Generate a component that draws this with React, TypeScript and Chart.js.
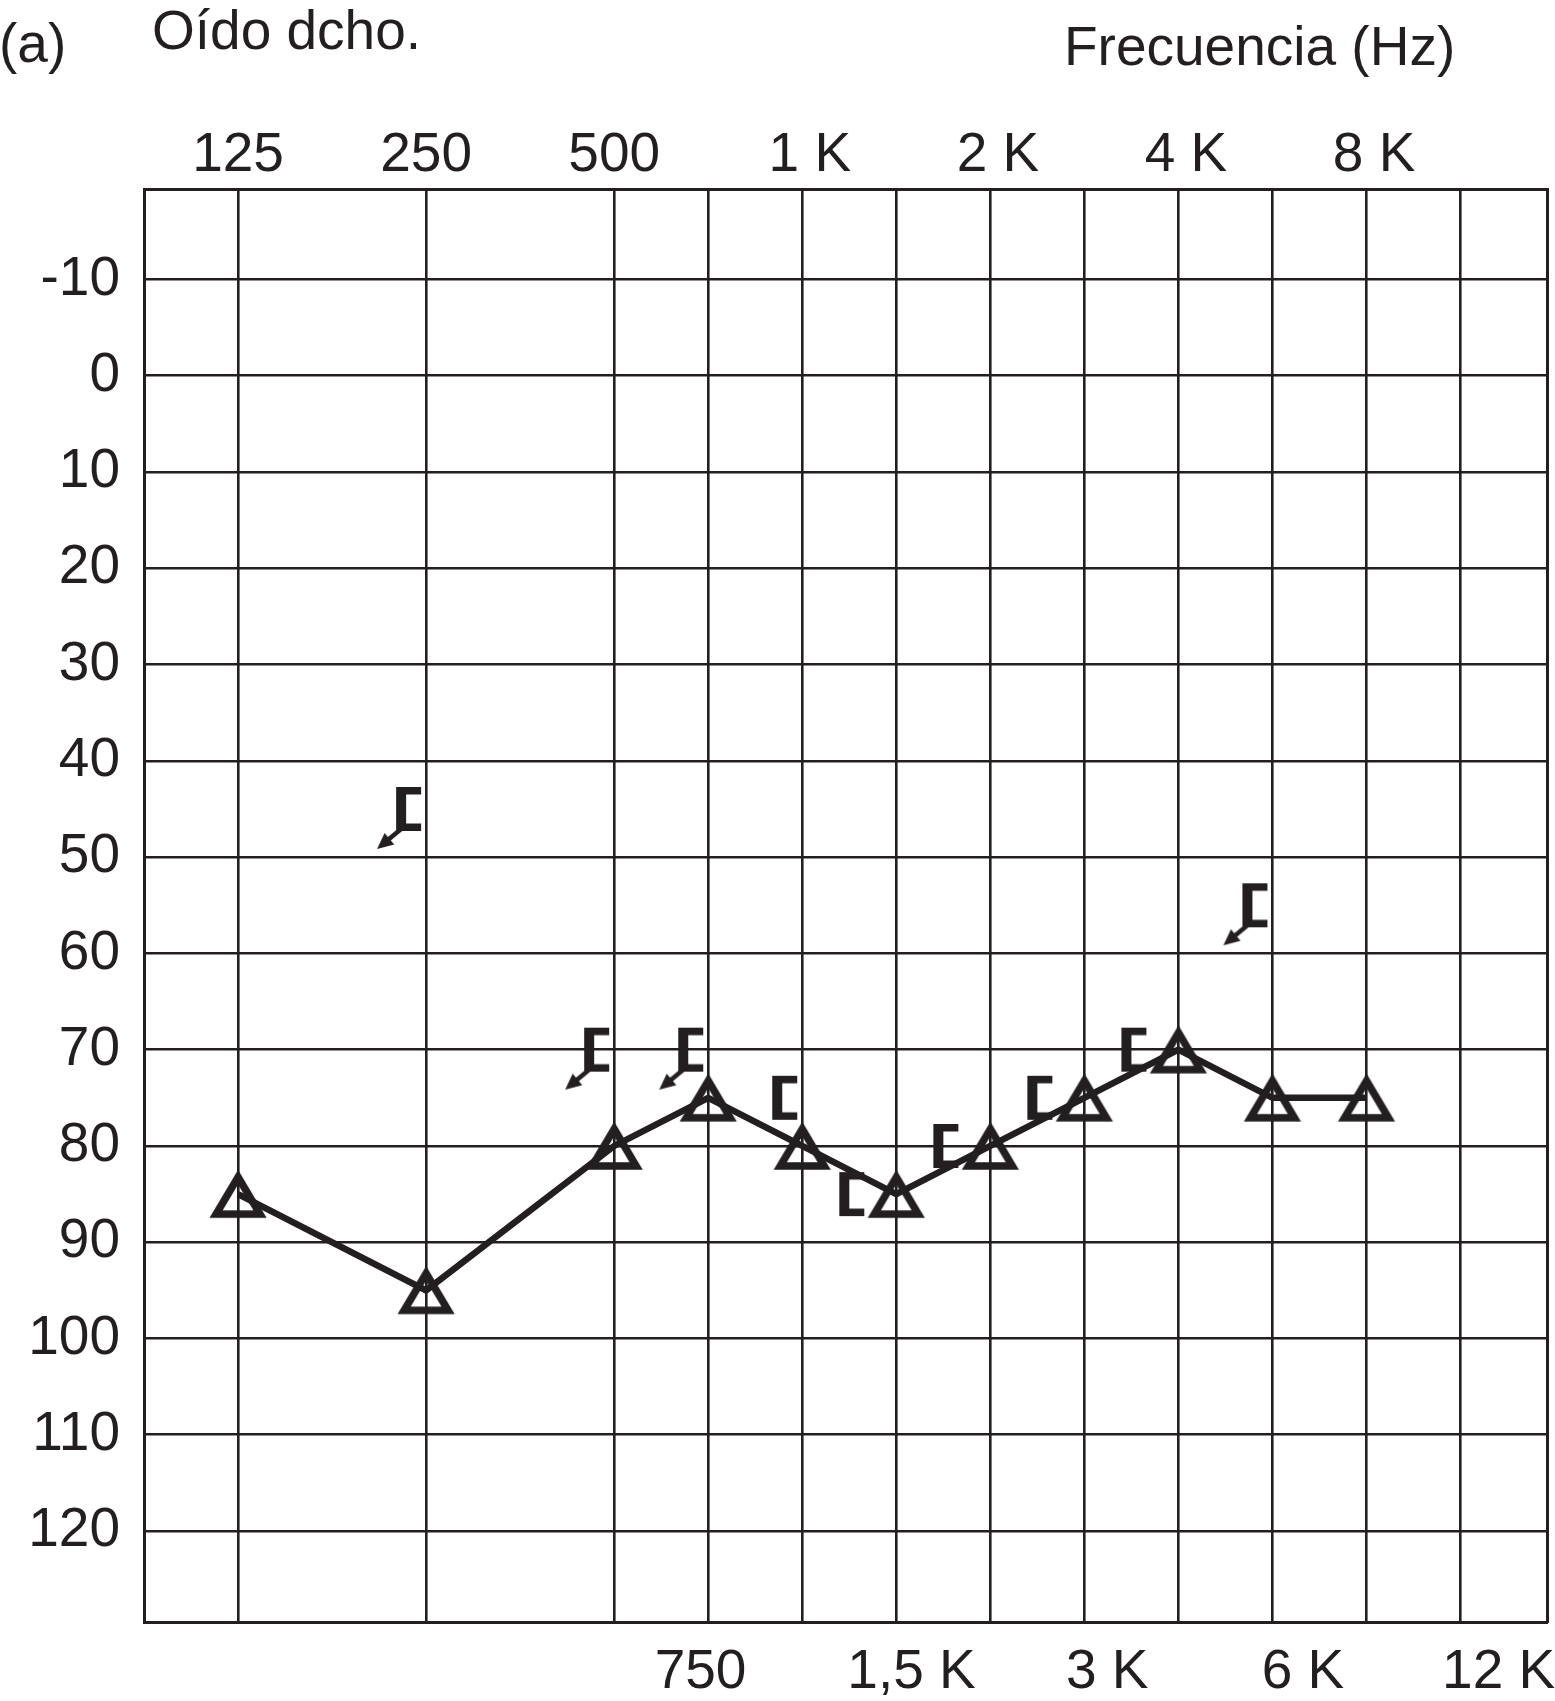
import React, { useEffect, useRef } from 'react';
import { Chart, registerables } from 'chart.js';

Chart.register(...registerables);

// ---------- data ----------
const GRID_FREQS = [125, 250, 500, 750, 1000, 1500, 2000, 3000, 4000, 6000, 8000, 12000];
const TOP_FREQS = [125, 250, 500, 1000, 2000, 4000, 8000];
const TOP_LABELS = ['125', '250', '500', '1 K', '2 K', '4 K', '8 K'];
const BOTTOM_FREQS = [750, 1500, 3000, 6000, 12000];
const BOTTOM_LABELS = ['750', '1,5 K', '3 K', '6 K', '12 K'];
const DB_TICKS = [-10, 0, 10, 20, 30, 40, 50, 60, 70, 80, 90, 100, 110, 120];

// Air conduction (masked), right ear: triangles joined by a line
const AIR_FREQS = [125, 250, 500, 750, 1000, 1500, 2000, 3000, 4000, 6000, 8000];
const AIR_DB = [85, 95, 80, 75, 80, 85, 80, 75, 70, 75, 75];

// Bone conduction (masked), right ear: "[" symbols
const BONE_FREQS = [250, 500, 750, 1000, 1500, 2000, 3000, 4000, 6000];
const BONE_DB = [45, 70, 70, 75, 85, 80, 75, 70, 55];
const BONE_NO_RESPONSE = [true, true, true, false, false, false, false, false, true];

const TITLE_PANEL = '(a)';
const TITLE_EAR = 'Oído dcho.';
const TITLE_AXIS = 'Frecuencia (Hz)';

// ---------- style ----------
const INK = '#231f20';
const FONT = '"Liberation Sans", Arial, Helvetica, sans-serif';
const FONT_SIZE = 55;
const X_MIN = -0.5;
const X_MAX = 6.96;
// spaces used to nudge some tick labels sideways, as in the printed form (+ right, - left)
const LABEL_NUDGE: Record<string, number> = {
  '1 K': 1, '2 K': 1, '4 K': 1, '8 K': 1,
  '750': -1, '1,5 K': 2, '3 K': 3, '6 K': 4, '12 K': 5,
};

// audiometric axis: one unit per octave above 125 Hz, inter-octave frequencies at the midpoint
const octaveSlot = (f: number) => Math.round(2 * Math.log2(f / 125)) / 2;
const nudge = (s: string) => {
  const n = LABEL_NUDGE[s] ?? 0;
  return n >= 0 ? '\u00A0'.repeat(n) + s : s + '\u00A0'.repeat(-n);
};

function makeTriangle(): HTMLCanvasElement {
  const c = document.createElement('canvas');
  c.width = 74;
  c.height = 74;
  const g = c.getContext('2d')!;
  const cx = 37, cy = 37;
  g.strokeStyle = INK;
  g.lineWidth = 7.5;
  g.lineJoin = 'miter';
  g.beginPath();
  g.moveTo(cx, cy - 17);
  g.lineTo(cx + 22, cy + 20);
  g.lineTo(cx - 22, cy + 20);
  g.closePath();
  g.stroke();
  return c;
}

function makeBracket(gap: number, arrow: boolean): HTMLCanvasElement {
  const c = document.createElement('canvas');
  c.width = 200;
  c.height = 110;
  const g = c.getContext('2d')!;
  const cx = 100, cy = 55;
  const w = 25;
  const right = cx - gap;
  const left = right - w;
  const top = cy - 22;
  const bottom = cy + 22;
  g.fillStyle = INK;
  g.fillRect(left, top, 10, bottom - top);
  g.fillRect(left, top, w, 7.5);
  g.fillRect(left, bottom - 7.5, w, 7.5);
  if (arrow) {
    const sx = left + 5, sy = bottom - 2;
    const tx = left - 19, ty = bottom + 18;
    const len = Math.hypot(tx - sx, ty - sy);
    const ux = (tx - sx) / len, uy = (ty - sy) / len;
    const headLen = 16, headHalf = 7.5;
    const bx = tx - ux * headLen, by = ty - uy * headLen;
    g.strokeStyle = INK;
    g.lineWidth = 4.5;
    g.beginPath();
    g.moveTo(sx, sy);
    g.lineTo(bx + ux * 2, by + uy * 2);
    g.stroke();
    g.beginPath();
    g.moveTo(tx, ty);
    g.lineTo(bx - uy * headHalf, by + ux * headHalf);
    g.lineTo(bx + uy * headHalf, by - ux * headHalf);
    g.closePath();
    g.fill();
  }
  return c;
}

const headerPlugin = {
  id: 'audiogramHeader',
  afterDraw(chart: any) {
    const { ctx } = chart;
    ctx.save();
    ctx.fillStyle = INK;
    ctx.font = `${FONT_SIZE}px ${FONT}`;
    ctx.textAlign = 'left';
    ctx.textBaseline = 'alphabetic';
    ctx.fillText(TITLE_PANEL, -1, 62);
    ctx.fillText(TITLE_EAR, 152, 49);
    ctx.fillText(TITLE_AXIS, 1064, 65);
    ctx.restore();
  },
};

const zeroPad = (s: any) => {
  s.paddingLeft = 0;
  s.paddingRight = 0;
  s.paddingTop = 0;
  s.paddingBottom = 0;
};
const fixHeight = (h: number) => (s: any) => {
  s.height = h;
  zeroPad(s);
};
const fixWidth = (w: number) => (s: any) => {
  s.width = w;
  zeroPad(s);
};

export default function App() {
  const ref = useRef<HTMLCanvasElement | null>(null);

  useEffect(() => {
    if (!ref.current) return;
    const tri = makeTriangle();
    const brackets = {
      near: [makeBracket(5, false), makeBracket(5, true)],
      far: [makeBracket(32, false), makeBracket(32, true)],
    };

    const tickFont = { family: FONT, size: FONT_SIZE };
    const gridSlots = GRID_FREQS.map(octaveSlot);

    const chart = new Chart(ref.current, {
      type: 'line',
      data: {
        datasets: [
          {
            type: 'line',
            label: 'Vía aérea',
            data: AIR_FREQS.map((f, i) => ({ x: octaveSlot(f), y: AIR_DB[i] })),
            borderColor: INK,
            borderWidth: 6.5,
            pointStyle: tri as any,
            pointRadius: 1,
            pointBorderWidth: 0,
            tension: 0,
            xAxisID: 'x',
            yAxisID: 'y',
          },
          {
            type: 'scatter',
            label: 'Vía ósea',
            data: BONE_FREQS.map((f, i) => ({ x: octaveSlot(f), y: BONE_DB[i] })),
            showLine: false,
            pointRadius: 1,
            pointBorderWidth: 0,
            pointStyle: ((ctx: any) => {
              const i = ctx.dataIndex ?? 0;
              const a = AIR_FREQS.indexOf(BONE_FREQS[i]);
              const overlaps = a >= 0 && Math.abs(AIR_DB[a] - BONE_DB[i]) < 5;
              const set = overlaps ? brackets.far : brackets.near;
              return set[BONE_NO_RESPONSE[i] ? 1 : 0];
            }) as any,
            xAxisID: 'x',
            yAxisID: 'y',
          },
        ],
      },
      options: {
        responsive: false,
        maintainAspectRatio: false,
        animation: false,
        events: [],
        layout: { padding: 0, autoPadding: false },
        plugins: {
          legend: { display: false },
          tooltip: { enabled: false },
          title: { display: false },
        },
        scales: {
          x: {
            type: 'linear',
            position: 'top',
            min: X_MIN,
            max: X_MAX,
            afterBuildTicks: (s: any) => {
              s.ticks = [X_MIN, ...gridSlots, X_MAX].map((v) => ({ value: v }));
            },
            afterFit: fixHeight(189),
            grid: {
              color: (c: any) => (c.tick && (c.tick.value === X_MIN || c.tick.value === X_MAX) ? 'rgba(0,0,0,0)' : INK),
              lineWidth: 2.6,
              drawTicks: false,
            },
            border: { display: true, color: INK, width: 3 },
            ticks: {
              autoSkip: false,
              maxRotation: 0,
              minRotation: 0,
              padding: 0,
              color: INK,
              font: tickFont,
              callback: (value: any) => {
                const idx = TOP_FREQS.findIndex((f) => octaveSlot(f) === value);
                return idx >= 0 ? nudge(TOP_LABELS[idx]) : '';
              },
            },
          },
          xb: {
            type: 'linear',
            position: 'bottom',
            min: X_MIN,
            max: X_MAX,
            afterBuildTicks: (s: any) => {
              s.ticks = [X_MIN, ...BOTTOM_FREQS.map(octaveSlot), X_MAX].map((v) => ({ value: v }));
            },
            afterFit: fixHeight(79),
            grid: { display: false, drawTicks: false },
            border: { display: true, color: INK, width: 3 },
            ticks: {
              autoSkip: false,
              maxRotation: 0,
              minRotation: 0,
              padding: 18,
              color: INK,
              font: tickFont,
              callback: (value: any) => {
                const idx = BOTTOM_FREQS.findIndex((f) => octaveSlot(f) === value);
                return idx >= 0 ? nudge(BOTTOM_LABELS[idx]) : '';
              },
            },
          },
          y: {
            type: 'linear',
            position: 'left',
            reverse: true,
            min: -19.4,
            max: 129.45,
            afterBuildTicks: (s: any) => {
              s.ticks = DB_TICKS.map((v) => ({ value: v }));
            },
            afterFit: fixWidth(144),
            grid: { color: INK, lineWidth: 2.6, drawTicks: false },
            border: { display: true, color: INK, width: 3 },
            ticks: {
              autoSkip: false,
              padding: 24,
              color: INK,
              font: tickFont,
              callback: (value: any) => String(value),
            },
          },
          yr: {
            type: 'linear',
            position: 'right',
            reverse: true,
            min: -19.4,
            max: 129.45,
            afterFit: fixWidth(8),
            grid: { display: false, drawTicks: false },
            border: { display: true, color: INK, width: 3 },
            ticks: { display: false },
          },
        },
      } as any,
      plugins: [headerPlugin],
    });

    return () => chart.destroy();
  }, []);

  return (
    <div style={{ position: 'absolute', left: 0, top: 0, width: 1555, height: 1701, background: '#ffffff' }}>
      <canvas ref={ref} width={1555} height={1701} style={{ width: 1555, height: 1701, display: 'block' }} />
    </div>
  );
}
